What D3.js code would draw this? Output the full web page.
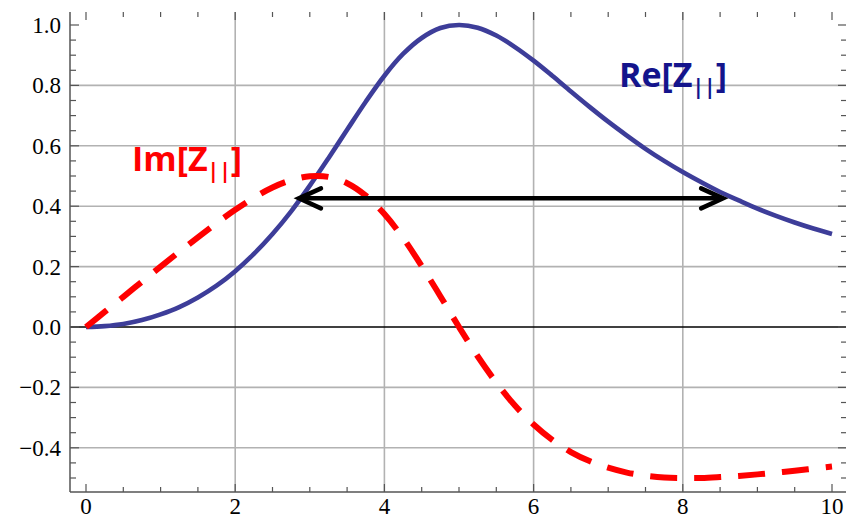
<!DOCTYPE html>
<html>
<head>
<meta charset="utf-8">
<script src="https://cdn.jsdelivr.net/npm/d3@7/dist/d3.min.js"></script>
<style>
  html, body { margin: 0; padding: 0; background: #fff; }
  svg { display: block; }
  .tl { font-family: "Liberation Serif", Tinos, "Times New Roman", Times, "DejaVu Serif", serif; font-size: 23px; }
</style>
</head>
<body>
<svg id="chart" width="846" height="521"></svg>
<script>
// ---- data ----
const xs = [0,0.25,0.5,0.75,1,1.25,1.5,1.75,2,2.25,2.5,2.75,3,3.25,3.5,3.75,4,4.25,4.5,4.75,5,
            5.25,5.5,5.75,6,6.25,6.5,6.75,7,7.25,7.5,7.75,8,8.25,8.5,8.75,9,9.25,9.5,9.75,10];
const reZ = [0,0.003,0.010,0.023,0.042,0.066,0.098,0.137,0.185,0.242,0.308,0.383,0.468,0.559,0.653,0.746,0.832,0.904,0.957,0.990,1.0,
             0.991,0.965,0.927,0.882,0.832,0.780,0.729,0.680,0.634,0.590,0.550,0.513,0.479,0.447,0.419,0.392,0.368,0.346,0.326,0.308];
const imZ = [0,0.050,0.100,0.150,0.200,0.249,0.297,0.344,0.388,0.428,0.462,0.486,0.499,0.497,0.476,0.435,0.374,0.295,0.202,0.102,0,
             -0.097,-0.184,-0.260,-0.323,-0.374,-0.414,-0.444,-0.466,-0.482,-0.492,-0.498,-0.500,-0.500,-0.497,-0.493,-0.488,-0.482,-0.476,-0.469,-0.462];
const xTickLabels = [0,2,4,6,8,10];
const yTickLabels = [-0.4,-0.2,0.0,0.2,0.4,0.6,0.8,1.0];
const xGrid = [2,4,6,8];
const yGrid = [-0.4,-0.2,0.2,0.4,0.6,0.8];
const arrowX = [2.855, 8.54];
const arrowY = 0.426;

// ---- layout ----
const svg = d3.select("#chart");
const pL = 70, pR = 846, pT = 12, pB = 492;
const x = d3.scaleLinear().domain([0,10]).range([86,832]);
const y = d3.scaleLinear().domain([0,1]).range([327,25]);

const g = svg.append("g");

// gridlines
g.selectAll(".vg").data(xGrid).join("line")
  .attr("x1", d=>x(d)).attr("x2", d=>x(d)).attr("y1", pT).attr("y2", pB)
  .attr("stroke", "#b2b2b2").attr("stroke-width", 1.6);
g.selectAll(".hg").data(yGrid).join("line")
  .attr("x1", pL).attr("x2", pR).attr("y1", d=>y(d)).attr("y2", d=>y(d))
  .attr("stroke", "#b2b2b2").attr("stroke-width", 1.6);
// zero line
g.append("line").attr("x1", pL).attr("x2", pR).attr("y1", y(0)).attr("y2", y(0))
  .attr("stroke", "#000").attr("stroke-width", 1.3);

// axes frame
g.append("line").attr("x1", pL).attr("x2", pL).attr("y1", pT).attr("y2", pB)
  .attr("stroke", "#555").attr("stroke-width", 1.5);
g.append("line").attr("x1", pL).attr("x2", pR).attr("y1", pB).attr("y2", pB)
  .attr("stroke", "#555").attr("stroke-width", 1.5);

// ticks
const xMinor = d3.range(0, 10.001, 0.5);
const yMinor = d3.range(-0.5, 1.0001, 0.05).map(v => Math.round(v*100)/100);
const isMajorX = v => Math.abs(v/2 - Math.round(v/2)) < 1e-6;
const isMajorY = v => Math.abs(v/0.2 - Math.round(v/0.2)) < 1e-6;
const tickCol = "#555";
xMinor.forEach(v => {
  const L = isMajorX(v) ? 8 : 5;
  g.append("line").attr("x1", x(v)).attr("x2", x(v)).attr("y1", pB).attr("y2", pB - L)
    .attr("stroke", tickCol).attr("stroke-width", 1.2);
  g.append("line").attr("x1", x(v)).attr("x2", x(v)).attr("y1", pT).attr("y2", pT + L)
    .attr("stroke", tickCol).attr("stroke-width", 1.2);
});
yMinor.forEach(v => {
  if (y(v) > pB || y(v) < pT) return;
  const L = isMajorY(v) ? 9 : 6;
  g.append("line").attr("x1", pL).attr("x2", pL + L).attr("y1", y(v)).attr("y2", y(v))
    .attr("stroke", tickCol).attr("stroke-width", 1.2);
  g.append("line").attr("x1", pR).attr("x2", pR - L + 1).attr("y1", y(v)).attr("y2", y(v))
    .attr("stroke", tickCol).attr("stroke-width", 1.2);
});

// tick labels
g.selectAll(".xl").data(xTickLabels).join("text").attr("class", "tl")
  .attr("x", d=>x(d)).attr("y", 514).attr("text-anchor", "middle")
  .attr("fill", "#000")
  .text(d => d3.format("d")(d));
g.selectAll(".yl").data(yTickLabels).join("text").attr("class", "tl")
  .attr("x", 61).attr("y", d=>y(d) + 8).attr("text-anchor", "end")
  .attr("fill", "#000")
  .text(d => d3.format(".1f")(d).replace("-", "\u2212"));

// curves
const pts = (ys) => xs.map((xv,i) => [xv, ys[i]]);
const line = d3.line().x(d=>x(d[0])).y(d=>y(d[1])).curve(d3.curveCatmullRom.alpha(0.5));

g.append("path").attr("d", line(pts(reZ)))
  .attr("fill", "none").attr("stroke", "#3d3d99").attr("stroke-width", 4.6)
  .attr("stroke-linejoin", "round");
g.append("path").attr("d", line(pts(imZ)))
  .attr("fill", "none").attr("stroke", "#ff0000").attr("stroke-width", 6)
  .attr("stroke-dasharray", "27,17");

// arrow
const ay = y(arrowY), ax1 = x(arrowX[0]), ax2 = x(arrowX[1]);
g.append("line").attr("x1", ax1 + 2).attr("x2", ax2 - 2).attr("y1", ay).attr("y2", ay)
  .attr("stroke", "#000").attr("stroke-width", 4.5);
g.append("path")
  .attr("d", `M${ax1+22},${ay-10} L${ax1},${ay} L${ax1+22},${ay+10}`)
  .attr("fill", "none").attr("stroke", "#000").attr("stroke-width", 4.5)
  .attr("stroke-linecap", "round").attr("stroke-linejoin", "miter");
g.append("path")
  .attr("d", `M${ax2-22},${ay-10} L${ax2},${ay} L${ax2-22},${ay+10}`)
  .attr("fill", "none").attr("stroke", "#000").attr("stroke-width", 4.5)
  .attr("stroke-linecap", "round").attr("stroke-linejoin", "miter");

// labels
const sans = "'Open Sans', 'Noto Sans', sans-serif";
function label(px, py, main, color) {
  const t = g.append("text").attr("x", px).attr("y", py)
    .attr("font-family", sans).attr("font-weight", "bold").attr("font-size", 34)
    .attr("fill", color);
  t.append("tspan").text(main);
  t.append("tspan").attr("font-size", 21).attr("dy", 7).text("||");
  t.append("tspan").attr("dy", -7).text("]");
}
label(132, 171, "Im[Z", "#ff0000");
label(619, 87, "Re[Z", "#14148c");
</script>
</body>
</html>
